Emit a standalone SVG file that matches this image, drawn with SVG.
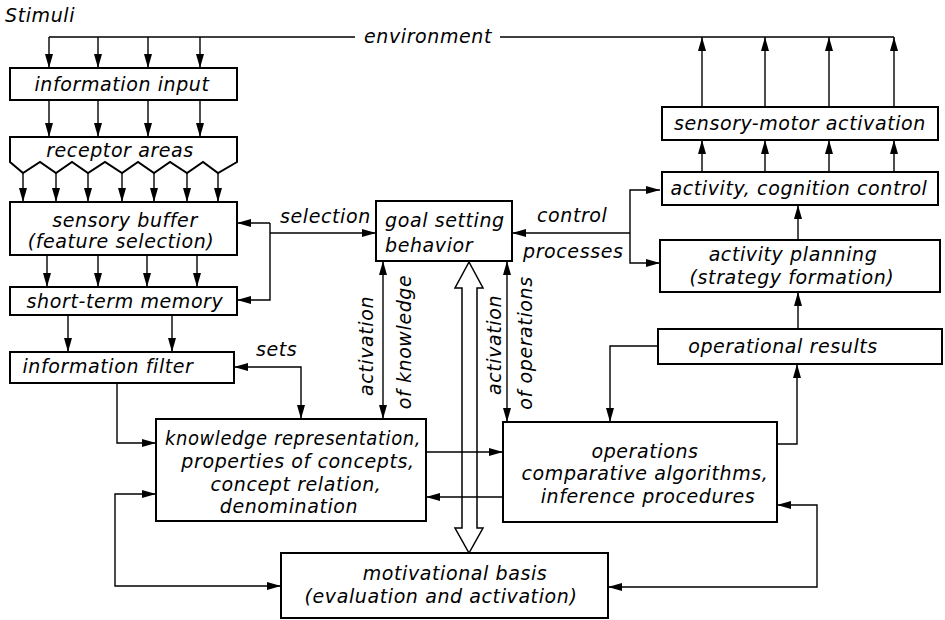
<svg xmlns="http://www.w3.org/2000/svg" width="945" height="620" viewBox="0 0 945 620">
<defs>
<style>
.box{fill:#fff;stroke:#000;stroke-width:2}
.ln{fill:none;stroke:#000;stroke-width:1.4}
.ar{fill:none;stroke:#000;stroke-width:1.4;marker-end:url(#ah)}
.ar2{fill:none;stroke:#000;stroke-width:1.4;marker-start:url(#ah);marker-end:url(#ah)}
text{font-family:"DejaVu Sans","Liberation Sans",sans-serif;font-style:italic;font-size:19px;letter-spacing:0.6px;fill:#000}
.c{text-anchor:middle}
</style>
<marker id="ah" viewBox="0 0 14 8" refX="14" refY="4" markerWidth="14" markerHeight="8" markerUnits="userSpaceOnUse" orient="auto-start-reverse">
<path d="M0,0 L14,4 L0,8 z" fill="#000"/>
</marker>
</defs>
<rect width="945" height="620" fill="#fff"/>

<g id="connectors">
<!-- environment -->
<path class="ln" d="M49,37 H355 M500,37 H894"/>
<path class="ar" d="M49,37 V68"/>
<path class="ar" d="M98,37 V68"/>
<path class="ar" d="M148,37 V68"/>
<path class="ar" d="M200,37 V68"/>
<path class="ar" d="M702,107 V37"/>
<path class="ar" d="M765,107 V37"/>
<path class="ar" d="M829,107 V37"/>
<path class="ar" d="M894,107 V37"/>
<!-- input to receptor -->
<path class="ar" d="M49,100 V137"/>
<path class="ar" d="M98,100 V137"/>
<path class="ar" d="M148,100 V137"/>
<path class="ar" d="M200,100 V137"/>
<!-- receptor to sensory buffer -->
<path class="ar" d="M23,173 V202"/>
<path class="ar" d="M56,173 V202"/>
<path class="ar" d="M88,173 V202"/>
<path class="ar" d="M122,173 V202"/>
<path class="ar" d="M154,173 V202"/>
<path class="ar" d="M187,173 V202"/>
<path class="ar" d="M218,173 V202"/>
<!-- sensory buffer to STM -->
<path class="ar" d="M47,255 V287"/>
<path class="ar" d="M98,255 V287"/>
<path class="ar" d="M147,255 V287"/>
<path class="ar" d="M197,255 V287"/>
<!-- STM to filter -->
<path class="ar" d="M68,315 V352"/>
<path class="ar" d="M172,315 V352"/>
<!-- selection -->
<path class="ar" d="M270,233 H376"/>
<path class="ar" d="M270,223 H237"/>
<path class="ar" d="M270,223 V300 H237"/>
<!-- control processes -->
<path class="ar" d="M630,233 H512"/>
<path class="ar2" d="M660,190 H630 V263 H660"/>
<!-- activation arrows -->
<path class="ar2" d="M383,261 V419"/>
<path class="ar2" d="M507,261 V422"/>
<!-- hollow double arrow -->
<path d="M469,262 L483,288 L477,288 L477,528 L483,528 L469,553 L455,528 L462,528 L462,288 L455,288 Z" fill="#fff" stroke="#000" stroke-width="1.5"/>
<!-- knowledge / operations -->
<path class="ar" d="M426,452 H503"/>
<path class="ar" d="M503,497 H426"/>
<!-- filter to knowledge -->
<path class="ar" d="M117,383 V443 H156"/>
<!-- sets -->
<path class="ar2" d="M234,367 H301 V419"/>
<!-- knowledge to motivational -->
<path class="ar2" d="M156,494 H115 V586 H281"/>
<!-- operations to motivational -->
<path class="ar2" d="M777,505 H817 V587 H608"/>
<!-- op results loop -->
<path class="ar" d="M658,346 H610 V422"/>
<path class="ar" d="M777,444 H797 V364"/>
<path class="ar" d="M798,329 V292"/>
<path class="ar" d="M798,240 V205"/>
<!-- cognition to sensory-motor -->
<path class="ar" d="M702,172 V140"/>
<path class="ar" d="M765,172 V140"/>
<path class="ar" d="M829,172 V140"/>
<path class="ar" d="M894,172 V140"/>
</g>

<g id="labels">
<text x="5" y="22">Stimuli</text>
<text x="428" y="43" class="c">environment</text>
<text x="280" y="223">selection</text>
<text x="537" y="222">control</text>
<text x="523" y="258">processes</text>
<text x="256" y="356">sets</text>
<text class="c" transform="translate(373,346) rotate(-90)">activation</text>
<text class="c" transform="translate(411,342) rotate(-90)">of knowledge</text>
<text class="c" transform="translate(501,345) rotate(-90)">activation</text>
<text class="c" transform="translate(532,343) rotate(-90)">of operations</text>
</g>

<g id="information-input">
<rect class="box" x="10" y="68" width="227" height="32"/>
<text x="122" y="91" class="c">information input</text>
</g>
<g id="receptor-areas">
<path class="box" d="M10,137 H237 V162 L218,173 L203,162 L187,173 L170,162 L154,173 L138,162 L122,173 L105,162 L88,173 L72,162 L56,173 L40,162 L23,173 L10,162 Z"/>
<text x="120" y="157" class="c">receptor areas</text>
</g>
<g id="sensory-buffer">
<rect class="box" x="10" y="202" width="227" height="53"/>
<text x="125" y="227" class="c">sensory buffer</text>
<text x="121" y="248" class="c">(feature selection)</text>
</g>
<g id="short-term-memory">
<rect class="box" x="10" y="287" width="227" height="28"/>
<text x="125" y="308" class="c">short-term memory</text>
</g>
<g id="information-filter">
<rect class="box" x="10" y="352" width="224" height="31"/>
<text x="108" y="373" class="c">information filter</text>
</g>
<g id="goal-setting">
<rect class="box" x="376" y="201" width="136" height="60"/>
<text x="385" y="227">goal setting</text>
<text x="385" y="252">behavior</text>
</g>
<g id="knowledge-representation">
<rect class="box" x="156" y="419" width="270" height="102"/>
<text x="293" y="445" class="c" textLength="256" lengthAdjust="spacingAndGlyphs">knowledge representation,</text>
<text x="298" y="468" class="c">properties of concepts,</text>
<text x="296" y="491" class="c">concept relation,</text>
<text x="289" y="513" class="c">denomination</text>
</g>
<g id="operations">
<rect class="box" x="503" y="422" width="274" height="100"/>
<text x="645" y="458" class="c">operations</text>
<text x="645" y="480" class="c">comparative algorithms,</text>
<text x="648" y="503" class="c">inference procedures</text>
</g>
<g id="motivational-basis">
<rect class="box" x="281" y="553" width="327" height="65"/>
<text x="455" y="580" class="c">motivational basis</text>
<text x="441" y="603" class="c">(evaluation and activation)</text>
</g>
<g id="operational-results">
<rect class="box" x="658" y="329" width="284" height="35"/>
<text x="783" y="353" class="c">operational results</text>
</g>
<g id="activity-planning">
<rect class="box" x="660" y="240" width="280" height="52"/>
<text x="793" y="261" class="c">activity planning</text>
<text x="792" y="284" class="c">(strategy formation)</text>
</g>
<g id="activity-cognition-control">
<rect class="box" x="662" y="172" width="276" height="33"/>
<text x="799" y="195" class="c">activity, cognition control</text>
</g>
<g id="sensory-motor-activation">
<rect class="box" x="662" y="107" width="276" height="33"/>
<text x="800" y="130" class="c">sensory-motor activation</text>
</g>
</svg>
